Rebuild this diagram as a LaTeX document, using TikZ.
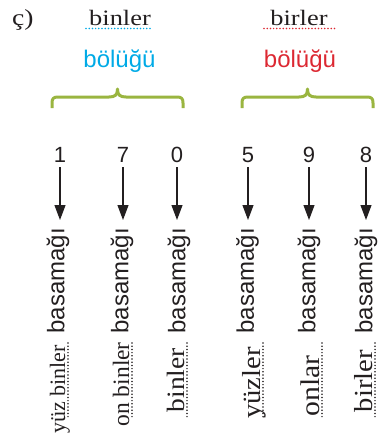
\documentclass[tikz,border=0pt]{standalone}
\usepackage{fontspec}
\setmainfont{Liberation Serif}
\newfontfamily\serifw[FakeStretch=1.2]{Liberation Serif}
\newfontfamily\serifm[FakeStretch=1.1]{Liberation Serif}
\newfontfamily\serifp{Liberation Serif}
\newfontfamily\sansf{Liberation Sans}
\usetikzlibrary{arrows.meta}
\definecolor{bracegreen}{RGB}{154,181,64}
\definecolor{cyanb}{RGB}{0,170,230}
\definecolor{redb}{RGB}{220,40,50}
\definecolor{ink}{RGB}{35,31,32}
\begin{document}
\begin{tikzpicture}[x=1pt,y=-1pt,
 brc/.style={draw=bracegreen,line width=3pt,line join=round},
 dig/.style={inner sep=0pt,anchor=base,font=\sansf\fontsize{22}{26}\selectfont,text=ink},
 bas/.style={inner sep=0pt,anchor=east,rotate=90,font=\sansf\fontsize{24}{28}\selectfont,text=ink},
 ans/.style={inner sep=0pt,anchor=base east,rotate=90,text=ink},
 arr/.style={draw=ink,line width=1.1pt,-{Triangle[length=15pt,width=11pt]},shorten <=5pt,shorten >=8pt},
 dotline/.style={line width=1.7pt,dash pattern=on 0pt off 3.2pt,line cap=round},
 toplab/.style={inner sep=0pt,anchor=base,font=\serifw\fontsize{22}{26}\selectfont,text=ink},
 bol/.style={inner sep=0pt,anchor=base,font=\sansf\fontsize{24}{28}\selectfont},
]
\useasboundingbox (0,0) rectangle (381,439);

% header
\node[inner sep=0pt,anchor=base west,font=\serifw\fontsize{23}{26}\selectfont,text=ink] (c) at (12,25) {ç)};
\draw[dotline,draw=cyanb] (86,28.5) -- (153,28.5);
\draw[dotline,draw=redb] (264,28.5) -- (337,28.5);
\node[toplab] (tbin) at (120,25) {binler};
\node[toplab] (tbir) at (299,25) {birler};
\node[bol,text=cyanb] (bol1) at (119.5,67) {bölüğü};
\node[bol,text=redb] (bol2) at (300,67) {bölüğü};

% braces
\draw[brc] (52,108) -- (52,103) .. controls (52,98.5) and (53.5,97) .. (58,97) -- (109,97) .. controls (115,97) and (117.5,95) .. (117.5,89) .. controls (117.5,95) and (120,97) .. (126,97) -- (177,97) .. controls (181.5,97) and (183,98.5) .. (183,103) -- (183,108);
\draw[brc] (242,108) -- (242,103) .. controls (242,98.5) and (243.5,97) .. (248,97) -- (299,97) .. controls (305,97) and (307.5,95) .. (307.5,89) .. controls (307.5,95) and (310,97) .. (316,97) -- (367,97) .. controls (371.5,97) and (373,98.5) .. (373,103) -- (373,108);

% digits
\node[dig] (d1) at (60,162) {1};
\node[dig] (d2) at (123,162) {7};
\node[dig] (d3) at (177,162) {0};
\node[dig] (d4) at (248,162) {5};
\node[dig] (d5) at (309,162) {9};
\node[dig] (d6) at (366,162) {8};

% basamagi
\node[bas] (b1) at (58,228) {basamağı};
\node[bas] (b2) at (122,228) {basamağı};
\node[bas] (b3) at (179,228) {basamağı};
\node[bas] (b4) at (247.5,228) {basamağı};
\node[bas] (b5) at (309,228) {basamağı};
\node[bas] (b6) at (366,228) {basamağı};

% arrows
\foreach \i in {1,...,6} {
  \draw[arr] (d\i.south) -- (d\i.south |- b\i.east);
}

% answer dotted lines
\foreach \x in {68,132,187,263,322,375} {
  \draw[dotline,draw=ink] (\x,343) -- (\x,418);
}

% answers
\node[ans,font=\serifp\fontsize{22}{26}\selectfont] (a1) at (65,345) {yüz binler};
\node[ans,font=\serifp\fontsize{23.5}{27}\selectfont] (a2) at (129,342) {on binler};
\node[ans,font=\serifm\fontsize{25}{28}\selectfont] (a3) at (184,348) {binler};
\node[ans,font=\serifm\fontsize{26}{29}\selectfont] (a4) at (260,347) {yüzler};
\node[ans,font=\serifm\fontsize{27}{30}\selectfont] (a5) at (319,355) {onlar};
\node[ans,font=\serifm\fontsize{26}{29}\selectfont] (a6) at (372,350) {birler};
\end{tikzpicture}
\end{document}
